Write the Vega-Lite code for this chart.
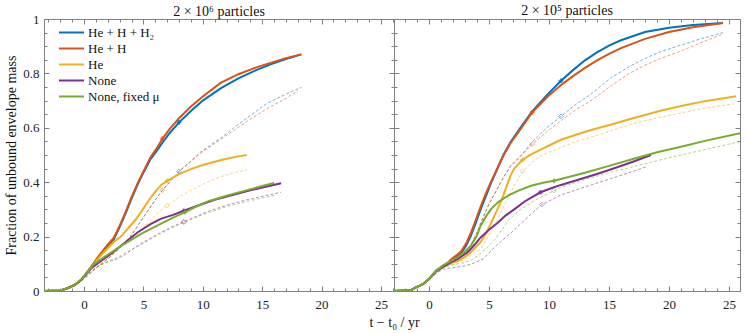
{
"$schema": "https://vega.github.io/schema/vega-lite/v6.json",
"padding": {"left": 4, "top": 3, "right": 0, "bottom": 0},
"spacing": 0,
"bounds": "flush",
"config": {
  "font": "Liberation Serif, DejaVu Serif, serif",
  "view": {"stroke": "#808080", "strokeWidth": 1},
  "title": {"font": "Liberation Serif, DejaVu Serif, serif", "fontSize": 14, "fontWeight": "normal", "color": "#111", "offset": 1},
  "axis": {"domain": false, "grid": false, "tickColor": "#808080", "tickWidth": 1, "labelColor": "#222", "labelFontSize": 13, "titleFontSize": 14, "titleFontWeight": "normal", "titleColor": "#111", "labelFont": "Liberation Serif, DejaVu Serif, serif", "titleFont": "Liberation Serif, DejaVu Serif, serif"},
  "legend": {"labelFont": "Liberation Serif, DejaVu Serif, serif", "labelFontSize": 13, "labelColor": "#111", "orient": "none", "legendX": 20, "legendY": 6, "title": null, "symbolType": "M-2,0L2,0", "symbolStrokeWidth": 2, "symbolSize": 156, "symbolOpacity": 1, "rowPadding": 1, "labelOffset": 9}
},
"datasets": {
"LA": [
{"s":"He + H + H₂","x":-3.37,"y":0},{"s":"He + H + H₂","x":-2,"y":0.002},{"s":"He + H + H₂","x":-1.4,"y":0.01},{"s":"He + H + H₂","x":-0.8,"y":0.022},{"s":"He + H + H₂","x":-0.25,"y":0.04},{"s":"He + H + H₂","x":0.6,"y":0.088},{"s":"He + H + H₂","x":1.3,"y":0.13},{"s":"He + H + H₂","x":2,"y":0.165},{"s":"He + H + H₂","x":2.5,"y":0.19},{"s":"He + H + H₂","x":3,"y":0.235},{"s":"He + H + H₂","x":3.5,"y":0.285},{"s":"He + H + H₂","x":4,"y":0.34},{"s":"He + H + H₂","x":4.5,"y":0.39},{"s":"He + H + H₂","x":5,"y":0.435},{"s":"He + H + H₂","x":5.6,"y":0.485},{"s":"He + H + H₂","x":6.2,"y":0.52},{"s":"He + H + H₂","x":6.6,"y":0.545},{"s":"He + H + H₂","x":7.2,"y":0.58},{"s":"He + H + H₂","x":8,"y":0.62},{"s":"He + H + H₂","x":9,"y":0.662},{"s":"He + H + H₂","x":10,"y":0.7},{"s":"He + H + H₂","x":11.5,"y":0.745},{"s":"He + H + H₂","x":13,"y":0.782},{"s":"He + H + H₂","x":14.5,"y":0.812},{"s":"He + H + H₂","x":15.7,"y":0.833},{"s":"He + H + H₂","x":17,"y":0.853},{"s":"He + H + H₂","x":18.3,"y":0.87},
{"s":"He + H","x":-3.37,"y":0},{"s":"He + H","x":-2,"y":0.002},{"s":"He + H","x":-1.4,"y":0.01},{"s":"He + H","x":-0.8,"y":0.022},{"s":"He + H","x":-0.25,"y":0.04},{"s":"He + H","x":0.6,"y":0.09},{"s":"He + H","x":1.3,"y":0.132},{"s":"He + H","x":2,"y":0.17},{"s":"He + H","x":2.5,"y":0.195},{"s":"He + H","x":3,"y":0.24},{"s":"He + H","x":3.5,"y":0.29},{"s":"He + H","x":4,"y":0.345},{"s":"He + H","x":4.5,"y":0.395},{"s":"He + H","x":5,"y":0.44},{"s":"He + H","x":5.6,"y":0.492},{"s":"He + H","x":6.2,"y":0.53},{"s":"He + H","x":6.6,"y":0.56},{"s":"He + H","x":7.2,"y":0.595},{"s":"He + H","x":8,"y":0.635},{"s":"He + H","x":9,"y":0.678},{"s":"He + H","x":10,"y":0.715},{"s":"He + H","x":11.5,"y":0.765},{"s":"He + H","x":13,"y":0.797},{"s":"He + H","x":14.5,"y":0.822},{"s":"He + H","x":15.7,"y":0.838},{"s":"He + H","x":17,"y":0.856},{"s":"He + H","x":18.3,"y":0.87},
{"s":"He","x":-3.37,"y":0},{"s":"He","x":-2,"y":0.002},{"s":"He","x":-1.4,"y":0.01},{"s":"He","x":-0.8,"y":0.022},{"s":"He","x":-0.25,"y":0.04},{"s":"He","x":0.6,"y":0.088},{"s":"He","x":1.4,"y":0.13},{"s":"He","x":2.5,"y":0.18},{"s":"He","x":3.1,"y":0.2},{"s":"He","x":3.66,"y":0.228},{"s":"He","x":4.3,"y":0.26},{"s":"He","x":4.8,"y":0.29},{"s":"He","x":5.4,"y":0.33},{"s":"He","x":5.9,"y":0.36},{"s":"He","x":6.5,"y":0.39},{"s":"He","x":7,"y":0.405},{"s":"He","x":8,"y":0.43},{"s":"He","x":9,"y":0.448},{"s":"He","x":10,"y":0.463},{"s":"He","x":11,"y":0.475},{"s":"He","x":12,"y":0.486},{"s":"He","x":13,"y":0.495},{"s":"He","x":13.7,"y":0.5},
{"s":"None","x":-3.37,"y":0},{"s":"None","x":-2,"y":0.002},{"s":"None","x":-1.4,"y":0.01},{"s":"None","x":-0.8,"y":0.022},{"s":"None","x":-0.25,"y":0.04},{"s":"None","x":0.6,"y":0.083},{"s":"None","x":1.26,"y":0.105},{"s":"None","x":2.26,"y":0.136},{"s":"None","x":3.35,"y":0.175},{"s":"None","x":4.5,"y":0.215},{"s":"None","x":5.6,"y":0.246},{"s":"None","x":6.45,"y":0.265},{"s":"None","x":7.5,"y":0.28},{"s":"None","x":8.4,"y":0.295},{"s":"None","x":9.8,"y":0.317},{"s":"None","x":11,"y":0.335},{"s":"None","x":12.5,"y":0.353},{"s":"None","x":14,"y":0.37},{"s":"None","x":15.3,"y":0.383},{"s":"None","x":16.6,"y":0.396},
{"s":"None, fixed μ","x":-3.37,"y":0},{"s":"None, fixed μ","x":-2,"y":0.002},{"s":"None, fixed μ","x":-1.4,"y":0.01},{"s":"None, fixed μ","x":-0.8,"y":0.022},{"s":"None, fixed μ","x":-0.25,"y":0.042},{"s":"None, fixed μ","x":0.85,"y":0.1},{"s":"None, fixed μ","x":1.7,"y":0.125},{"s":"None, fixed μ","x":3.1,"y":0.165},{"s":"None, fixed μ","x":4.8,"y":0.21},{"s":"None, fixed μ","x":6.45,"y":0.247},{"s":"None, fixed μ","x":7.5,"y":0.27},{"s":"None, fixed μ","x":8.5,"y":0.29},{"s":"None, fixed μ","x":9.8,"y":0.318},{"s":"None, fixed μ","x":10.6,"y":0.332},{"s":"None, fixed μ","x":12,"y":0.35},{"s":"None, fixed μ","x":13.5,"y":0.368},{"s":"None, fixed μ","x":15,"y":0.386},{"s":"None, fixed μ","x":16,"y":0.397}
],
"LB": [
{"s":"He + H + H₂","x":-3.37,"y":0},{"s":"He + H + H₂","x":-2,"y":0.002},{"s":"He + H + H₂","x":-1.4,"y":0.008},{"s":"He + H + H₂","x":-0.5,"y":0.03},{"s":"He + H + H₂","x":0.3,"y":0.06},{"s":"He + H + H₂","x":1,"y":0.085},{"s":"He + H + H₂","x":2,"y":0.118},{"s":"He + H + H₂","x":2.9,"y":0.154},{"s":"He + H + H₂","x":3.9,"y":0.2},{"s":"He + H + H₂","x":4.6,"y":0.245},{"s":"He + H + H₂","x":5.3,"y":0.29},{"s":"He + H + H₂","x":6,"y":0.335},{"s":"He + H + H₂","x":6.6,"y":0.37},{"s":"He + H + H₂","x":7.3,"y":0.405},{"s":"He + H + H₂","x":8,"y":0.44},{"s":"He + H + H₂","x":9,"y":0.478},{"s":"He + H + H₂","x":9.8,"y":0.51},{"s":"He + H + H₂","x":10.6,"y":0.535},{"s":"He + H + H₂","x":11.6,"y":0.565},{"s":"He + H + H₂","x":12.6,"y":0.6},{"s":"He + H + H₂","x":14,"y":0.645},{"s":"He + H + H₂","x":15.4,"y":0.69},{"s":"He + H + H₂","x":17,"y":0.724},{"s":"He + H + H₂","x":18.3,"y":0.749},
{"s":"He + H","x":-3.37,"y":0},{"s":"He + H","x":-2,"y":0.002},{"s":"He + H","x":-1.4,"y":0.008},{"s":"He + H","x":-0.5,"y":0.03},{"s":"He + H","x":0.3,"y":0.06},{"s":"He + H","x":1,"y":0.085},{"s":"He + H","x":2,"y":0.118},{"s":"He + H","x":2.9,"y":0.154},{"s":"He + H","x":3.9,"y":0.2},{"s":"He + H","x":4.6,"y":0.245},{"s":"He + H","x":5.3,"y":0.29},{"s":"He + H","x":6,"y":0.335},{"s":"He + H","x":6.6,"y":0.37},{"s":"He + H","x":7.3,"y":0.405},{"s":"He + H","x":8,"y":0.44},{"s":"He + H","x":9,"y":0.476},{"s":"He + H","x":9.8,"y":0.506},{"s":"He + H","x":10.6,"y":0.53},{"s":"He + H","x":11.6,"y":0.56},{"s":"He + H","x":12.6,"y":0.59},{"s":"He + H","x":14,"y":0.632},{"s":"He + H","x":15.4,"y":0.67},{"s":"He + H","x":17,"y":0.708},{"s":"He + H","x":18,"y":0.736},
{"s":"He","x":-3.37,"y":0},{"s":"He","x":-2,"y":0.002},{"s":"He","x":-1.4,"y":0.008},{"s":"He","x":-0.5,"y":0.03},{"s":"He","x":0.3,"y":0.06},{"s":"He","x":1,"y":0.085},{"s":"He","x":2,"y":0.12},{"s":"He","x":2.9,"y":0.154},{"s":"He","x":3.5,"y":0.178},{"s":"He","x":4.2,"y":0.203},{"s":"He","x":4.9,"y":0.23},{"s":"He","x":5.6,"y":0.258},{"s":"He","x":6.3,"y":0.29},{"s":"He","x":7,"y":0.314},{"s":"He","x":8,"y":0.345},{"s":"He","x":9,"y":0.37},{"s":"He","x":10,"y":0.392},{"s":"He","x":10.6,"y":0.405},{"s":"He","x":11.5,"y":0.42},{"s":"He","x":12.5,"y":0.434},{"s":"He","x":13.7,"y":0.445},
{"s":"None","x":-3.37,"y":0},{"s":"None","x":-2,"y":0.002},{"s":"None","x":-1.4,"y":0.008},{"s":"None","x":-0.5,"y":0.028},{"s":"None","x":0.3,"y":0.055},{"s":"None","x":1.15,"y":0.09},{"s":"None","x":1.7,"y":0.103},{"s":"None","x":2.8,"y":0.118},{"s":"None","x":3.5,"y":0.135},{"s":"None","x":4.8,"y":0.175},{"s":"None","x":6.45,"y":0.215},{"s":"None","x":7.5,"y":0.238},{"s":"None","x":8.4,"y":0.255},{"s":"None","x":9.5,"y":0.275},{"s":"None","x":10.6,"y":0.295},{"s":"None","x":12,"y":0.315},{"s":"None","x":13.5,"y":0.333},{"s":"None","x":15,"y":0.348},{"s":"None","x":16.6,"y":0.363},
{"s":"None, fixed μ","x":-3.37,"y":0},{"s":"None, fixed μ","x":-2,"y":0.002},{"s":"None, fixed μ","x":-1.4,"y":0.008},{"s":"None, fixed μ","x":-0.5,"y":0.028},{"s":"None, fixed μ","x":0.3,"y":0.058},{"s":"None, fixed μ","x":1,"y":0.085},{"s":"None, fixed μ","x":2,"y":0.108},{"s":"None, fixed μ","x":3,"y":0.128},{"s":"None, fixed μ","x":4,"y":0.153},{"s":"None, fixed μ","x":4.8,"y":0.17},{"s":"None, fixed μ","x":6,"y":0.2},{"s":"None, fixed μ","x":7.3,"y":0.23},{"s":"None, fixed μ","x":8.4,"y":0.252},{"s":"None, fixed μ","x":9.5,"y":0.272},{"s":"None, fixed μ","x":10.6,"y":0.29},{"s":"None, fixed μ","x":12,"y":0.31},{"s":"None, fixed μ","x":13.5,"y":0.327},{"s":"None, fixed μ","x":15,"y":0.342},{"s":"None, fixed μ","x":16.1,"y":0.352}
],
"RA": [
{"s":"He + H + H₂","x":-2.92,"y":0},{"s":"He + H + H₂","x":-1.5,"y":0.003},{"s":"He + H + H₂","x":-1.1,"y":0.013},{"s":"He + H + H₂","x":-0.5,"y":0.025},{"s":"He + H + H₂","x":0,"y":0.044},{"s":"He + H + H₂","x":0.6,"y":0.075},{"s":"He + H + H₂","x":1,"y":0.085},{"s":"He + H + H₂","x":1.4,"y":0.095},{"s":"He + H + H₂","x":1.8,"y":0.11},{"s":"He + H + H₂","x":2.25,"y":0.125},{"s":"He + H + H₂","x":2.7,"y":0.14},{"s":"He + H + H₂","x":3.1,"y":0.167},{"s":"He + H + H₂","x":3.5,"y":0.205},{"s":"He + H + H₂","x":3.9,"y":0.25},{"s":"He + H + H₂","x":4.3,"y":0.3},{"s":"He + H + H₂","x":4.75,"y":0.35},{"s":"He + H + H₂","x":5.2,"y":0.4},{"s":"He + H + H₂","x":5.7,"y":0.45},{"s":"He + H + H₂","x":6.2,"y":0.5},{"s":"He + H + H₂","x":6.8,"y":0.548},{"s":"He + H + H₂","x":7.7,"y":0.605},{"s":"He + H + H₂","x":8.6,"y":0.66},{"s":"He + H + H₂","x":9.9,"y":0.724},{"s":"He + H + H₂","x":11,"y":0.773},{"s":"He + H + H₂","x":12,"y":0.812},{"s":"He + H + H₂","x":13,"y":0.848},{"s":"He + H + H₂","x":14,"y":0.877},{"s":"He + H + H₂","x":15,"y":0.902},{"s":"He + H + H₂","x":16,"y":0.922},{"s":"He + H + H₂","x":18,"y":0.952},{"s":"He + H + H₂","x":20,"y":0.968},{"s":"He + H + H₂","x":22,"y":0.978},{"s":"He + H + H₂","x":24.5,"y":0.985},
{"s":"He + H","x":-2.92,"y":0},{"s":"He + H","x":-1.5,"y":0.003},{"s":"He + H","x":-1.1,"y":0.013},{"s":"He + H","x":-0.5,"y":0.025},{"s":"He + H","x":0,"y":0.044},{"s":"He + H","x":0.6,"y":0.075},{"s":"He + H","x":1,"y":0.085},{"s":"He + H","x":1.4,"y":0.097},{"s":"He + H","x":1.8,"y":0.115},{"s":"He + H","x":2.25,"y":0.13},{"s":"He + H","x":2.7,"y":0.147},{"s":"He + H","x":3.1,"y":0.175},{"s":"He + H","x":3.5,"y":0.215},{"s":"He + H","x":3.9,"y":0.262},{"s":"He + H","x":4.3,"y":0.31},{"s":"He + H","x":4.75,"y":0.36},{"s":"He + H","x":5.2,"y":0.405},{"s":"He + H","x":5.7,"y":0.452},{"s":"He + H","x":6.2,"y":0.498},{"s":"He + H","x":6.8,"y":0.544},{"s":"He + H","x":7.7,"y":0.6},{"s":"He + H","x":8.6,"y":0.657},{"s":"He + H","x":9.9,"y":0.715},{"s":"He + H","x":11,"y":0.757},{"s":"He + H","x":12,"y":0.79},{"s":"He + H","x":13,"y":0.82},{"s":"He + H","x":14,"y":0.848},{"s":"He + H","x":15,"y":0.872},{"s":"He + H","x":16,"y":0.893},{"s":"He + H","x":18,"y":0.927},{"s":"He + H","x":20,"y":0.952},{"s":"He + H","x":22,"y":0.97},{"s":"He + H","x":24.5,"y":0.985},
{"s":"He","x":-2.92,"y":0},{"s":"He","x":-1.5,"y":0.003},{"s":"He","x":-1.1,"y":0.013},{"s":"He","x":-0.5,"y":0.025},{"s":"He","x":0,"y":0.044},{"s":"He","x":0.6,"y":0.075},{"s":"He","x":1.2,"y":0.09},{"s":"He","x":2,"y":0.105},{"s":"He","x":2.5,"y":0.112},{"s":"He","x":3.35,"y":0.136},{"s":"He","x":4.3,"y":0.18},{"s":"He","x":4.8,"y":0.215},{"s":"He","x":5.3,"y":0.262},{"s":"He","x":5.7,"y":0.3},{"s":"He","x":6.1,"y":0.34},{"s":"He","x":6.55,"y":0.395},{"s":"He","x":6.8,"y":0.425},{"s":"He","x":7.1,"y":0.45},{"s":"He","x":7.8,"y":0.482},{"s":"He","x":8.5,"y":0.502},{"s":"He","x":9.3,"y":0.52},{"s":"He","x":10,"y":0.535},{"s":"He","x":11,"y":0.556},{"s":"He","x":12.5,"y":0.578},{"s":"He","x":13.5,"y":0.592},{"s":"He","x":15.2,"y":0.612},{"s":"He","x":17,"y":0.635},{"s":"He","x":19.3,"y":0.663},{"s":"He","x":21,"y":0.68},{"s":"He","x":23,"y":0.698},{"s":"He","x":25.6,"y":0.716},
{"s":"None","x":-2.92,"y":0},{"s":"None","x":-1.5,"y":0.003},{"s":"None","x":-1.1,"y":0.013},{"s":"None","x":-0.5,"y":0.025},{"s":"None","x":0,"y":0.044},{"s":"None","x":0.6,"y":0.072},{"s":"None","x":1.2,"y":0.09},{"s":"None","x":1.8,"y":0.105},{"s":"None","x":2.4,"y":0.118},{"s":"None","x":3.2,"y":0.142},{"s":"None","x":3.8,"y":0.17},{"s":"None","x":4.3,"y":0.197},{"s":"None","x":5,"y":0.225},{"s":"None","x":5.7,"y":0.25},{"s":"None","x":6.4,"y":0.278},{"s":"None","x":7.1,"y":0.3},{"s":"None","x":8,"y":0.33},{"s":"None","x":9.3,"y":0.363},{"s":"None","x":10,"y":0.375},{"s":"None","x":11,"y":0.39},{"s":"None","x":12.5,"y":0.41},{"s":"None","x":14,"y":0.43},{"s":"None","x":15.5,"y":0.452},{"s":"None","x":17,"y":0.475},{"s":"None","x":18.5,"y":0.5},
{"s":"None, fixed μ","x":-2.92,"y":0},{"s":"None, fixed μ","x":-1.5,"y":0.003},{"s":"None, fixed μ","x":-1.1,"y":0.013},{"s":"None, fixed μ","x":-0.5,"y":0.026},{"s":"None, fixed μ","x":0,"y":0.045},{"s":"None, fixed μ","x":0.6,"y":0.075},{"s":"None, fixed μ","x":1.2,"y":0.095},{"s":"None, fixed μ","x":1.8,"y":0.11},{"s":"None, fixed μ","x":2.4,"y":0.125},{"s":"None, fixed μ","x":3,"y":0.145},{"s":"None, fixed μ","x":3.5,"y":0.167},{"s":"None, fixed μ","x":4,"y":0.205},{"s":"None, fixed μ","x":4.3,"y":0.24},{"s":"None, fixed μ","x":4.8,"y":0.278},{"s":"None, fixed μ","x":5.2,"y":0.303},{"s":"None, fixed μ","x":5.8,"y":0.328},{"s":"None, fixed μ","x":6.55,"y":0.35},{"s":"None, fixed μ","x":7.5,"y":0.37},{"s":"None, fixed μ","x":8.5,"y":0.387},{"s":"None, fixed μ","x":9.5,"y":0.398},{"s":"None, fixed μ","x":10.4,"y":0.405},{"s":"None, fixed μ","x":11,"y":0.412},{"s":"None, fixed μ","x":13,"y":0.435},{"s":"None, fixed μ","x":15,"y":0.46},{"s":"None, fixed μ","x":17,"y":0.485},{"s":"None, fixed μ","x":19,"y":0.51},{"s":"None, fixed μ","x":21,"y":0.53},{"s":"None, fixed μ","x":23,"y":0.552},{"s":"None, fixed μ","x":25.92,"y":0.58}
],
"RB": [
{"s":"He + H + H₂","x":-2.92,"y":0},{"s":"He + H + H₂","x":-1.5,"y":0.003},{"s":"He + H + H₂","x":-1.1,"y":0.012},{"s":"He + H + H₂","x":-0.5,"y":0.024},{"s":"He + H + H₂","x":0,"y":0.042},{"s":"He + H + H₂","x":0.6,"y":0.07},{"s":"He + H + H₂","x":1.2,"y":0.088},{"s":"He + H + H₂","x":1.8,"y":0.1},{"s":"He + H + H₂","x":2.4,"y":0.115},{"s":"He + H + H₂","x":3.1,"y":0.14},{"s":"He + H + H₂","x":3.5,"y":0.17},{"s":"He + H + H₂","x":4,"y":0.215},{"s":"He + H + H₂","x":4.5,"y":0.27},{"s":"He + H + H₂","x":5,"y":0.32},{"s":"He + H + H₂","x":5.5,"y":0.36},{"s":"He + H + H₂","x":6.1,"y":0.41},{"s":"He + H + H₂","x":6.8,"y":0.46},{"s":"He + H + H₂","x":7.7,"y":0.5},{"s":"He + H + H₂","x":8.6,"y":0.548},{"s":"He + H + H₂","x":9.8,"y":0.6},{"s":"He + H + H₂","x":11,"y":0.642},{"s":"He + H + H₂","x":12.2,"y":0.685},{"s":"He + H + H₂","x":13.5,"y":0.724},{"s":"He + H + H₂","x":15.2,"y":0.785},{"s":"He + H + H₂","x":16.5,"y":0.82},{"s":"He + H + H₂","x":17.9,"y":0.853},{"s":"He + H + H₂","x":19.3,"y":0.88},{"s":"He + H + H₂","x":20.7,"y":0.9},{"s":"He + H + H₂","x":22.5,"y":0.925},{"s":"He + H + H₂","x":24.5,"y":0.95},
{"s":"He + H","x":-2.92,"y":0},{"s":"He + H","x":-1.5,"y":0.003},{"s":"He + H","x":-1.1,"y":0.012},{"s":"He + H","x":-0.5,"y":0.024},{"s":"He + H","x":0,"y":0.042},{"s":"He + H","x":0.6,"y":0.07},{"s":"He + H","x":1.2,"y":0.088},{"s":"He + H","x":1.8,"y":0.1},{"s":"He + H","x":2.4,"y":0.115},{"s":"He + H","x":3.1,"y":0.14},{"s":"He + H","x":3.5,"y":0.17},{"s":"He + H","x":4,"y":0.215},{"s":"He + H","x":4.5,"y":0.27},{"s":"He + H","x":5,"y":0.32},{"s":"He + H","x":5.5,"y":0.36},{"s":"He + H","x":6.1,"y":0.41},{"s":"He + H","x":6.8,"y":0.458},{"s":"He + H","x":7.7,"y":0.498},{"s":"He + H","x":8.6,"y":0.54},{"s":"He + H","x":9.8,"y":0.585},{"s":"He + H","x":11,"y":0.626},{"s":"He + H","x":12.2,"y":0.665},{"s":"He + H","x":13.5,"y":0.7},{"s":"He + H","x":15.2,"y":0.755},{"s":"He + H","x":16.5,"y":0.795},{"s":"He + H","x":17.9,"y":0.828},{"s":"He + H","x":19.3,"y":0.855},{"s":"He + H","x":20.7,"y":0.877},{"s":"He + H","x":22.5,"y":0.91},{"s":"He + H","x":24.5,"y":0.945},
{"s":"He","x":-2.92,"y":0},{"s":"He","x":-1.5,"y":0.003},{"s":"He","x":-1.1,"y":0.012},{"s":"He","x":-0.5,"y":0.024},{"s":"He","x":0,"y":0.042},{"s":"He","x":0.6,"y":0.07},{"s":"He","x":1.2,"y":0.088},{"s":"He","x":2,"y":0.1},{"s":"He","x":2.7,"y":0.11},{"s":"He","x":3.3,"y":0.125},{"s":"He","x":4.3,"y":0.154},{"s":"He","x":4.8,"y":0.19},{"s":"He","x":5.3,"y":0.228},{"s":"He","x":5.9,"y":0.28},{"s":"He","x":6.4,"y":0.327},{"s":"He","x":7,"y":0.38},{"s":"He","x":7.8,"y":0.44},{"s":"He","x":8.5,"y":0.47},{"s":"He","x":9.3,"y":0.497},{"s":"He","x":10,"y":0.51},{"s":"He","x":11,"y":0.528},{"s":"He","x":12.2,"y":0.548},{"s":"He","x":13.5,"y":0.565},{"s":"He","x":15.2,"y":0.59},{"s":"He","x":17,"y":0.615},{"s":"He","x":19.3,"y":0.639},{"s":"He","x":21,"y":0.655},{"s":"He","x":23,"y":0.672},{"s":"He","x":25.4,"y":0.688},
{"s":"None","x":-2.92,"y":0},{"s":"None","x":-1.5,"y":0.003},{"s":"None","x":-1.1,"y":0.012},{"s":"None","x":-0.5,"y":0.024},{"s":"None","x":0,"y":0.04},{"s":"None","x":0.6,"y":0.065},{"s":"None","x":1.2,"y":0.08},{"s":"None","x":1.8,"y":0.085},{"s":"None","x":2.25,"y":0.087},{"s":"None","x":3,"y":0.093},{"s":"None","x":3.6,"y":0.1},{"s":"None","x":4.5,"y":0.118},{"s":"None","x":5.6,"y":0.167},{"s":"None","x":7,"y":0.22},{"s":"None","x":8.3,"y":0.275},{"s":"None","x":9.4,"y":0.318},{"s":"None","x":10.2,"y":0.335},{"s":"None","x":11,"y":0.353},{"s":"None","x":12.5,"y":0.375},{"s":"None","x":14,"y":0.397},{"s":"None","x":15.5,"y":0.418},{"s":"None","x":17,"y":0.44},{"s":"None","x":18.2,"y":0.458},
{"s":"None, fixed μ","x":-2.92,"y":0},{"s":"None, fixed μ","x":-1.5,"y":0.003},{"s":"None, fixed μ","x":-1.1,"y":0.012},{"s":"None, fixed μ","x":-0.5,"y":0.024},{"s":"None, fixed μ","x":0,"y":0.042},{"s":"None, fixed μ","x":0.6,"y":0.068},{"s":"None, fixed μ","x":1.2,"y":0.085},{"s":"None, fixed μ","x":1.8,"y":0.095},{"s":"None, fixed μ","x":2.4,"y":0.1},{"s":"None, fixed μ","x":3,"y":0.105},{"s":"None, fixed μ","x":3.6,"y":0.115},{"s":"None, fixed μ","x":4.2,"y":0.135},{"s":"None, fixed μ","x":4.75,"y":0.155},{"s":"None, fixed μ","x":5.6,"y":0.195},{"s":"None, fixed μ","x":6.7,"y":0.265},{"s":"None, fixed μ","x":7.8,"y":0.305},{"s":"None, fixed μ","x":8.9,"y":0.335},{"s":"None, fixed μ","x":10.4,"y":0.369},{"s":"None, fixed μ","x":11,"y":0.381},{"s":"None, fixed μ","x":13,"y":0.41},{"s":"None, fixed μ","x":15,"y":0.435},{"s":"None, fixed μ","x":17.9,"y":0.467},{"s":"None, fixed μ","x":20,"y":0.49},{"s":"None, fixed μ","x":22,"y":0.51},{"s":"None, fixed μ","x":24,"y":0.53},{"s":"None, fixed μ","x":25.92,"y":0.549}
],
"M": [
{"p":"L","c":"A","s":"He + H + H₂","x":8,"y":0.62},{"p":"L","c":"A","s":"He + H","x":6.6,"y":0.56},{"p":"L","c":"A","s":"He","x":7,"y":0.405},{"p":"L","c":"A","s":"None","x":8.4,"y":0.295},{"p":"L","c":"A","s":"None, fixed μ","x":8.5,"y":0.29},
{"p":"L","c":"B","s":"He + H + H₂","x":8,"y":0.44},{"p":"L","c":"B","s":"He + H","x":6.6,"y":0.37},{"p":"L","c":"B","s":"He","x":7,"y":0.314},{"p":"L","c":"B","s":"None","x":8.4,"y":0.255},{"p":"L","c":"B","s":"None, fixed μ","x":8.4,"y":0.252},
{"p":"R","c":"A","s":"He + H + H₂","x":11,"y":0.773},{"p":"R","c":"A","s":"He + H","x":8.6,"y":0.657},{"p":"R","c":"A","s":"He","x":7.8,"y":0.482},{"p":"R","c":"A","s":"None","x":9.3,"y":0.363},{"p":"R","c":"A","s":"None, fixed μ","x":10.4,"y":0.405},
{"p":"R","c":"B","s":"He + H + H₂","x":11,"y":0.642},{"p":"R","c":"B","s":"He + H","x":8.6,"y":0.54},{"p":"R","c":"B","s":"He","x":7.8,"y":0.44},{"p":"R","c":"B","s":"None","x":9.4,"y":0.318},{"p":"R","c":"B","s":"None, fixed μ","x":10.4,"y":0.369}
]
},
"hconcat": [
{
 "width": 350, "height": 272,
 "title": {"text": "2 × 10⁶ particles", "offset": -6},
 "resolve": {"axis": {"x": "independent", "y": "independent"}},
 "layer": [
  {"data": {"name": "LB"},
   "mark": {"type": "line", "strokeWidth": 1, "strokeDash": [3, 2], "opacity": 0.55},
   "encoding": {
    "x": {"field": "x", "type": "quantitative", "scale": {"domain": [-3.37, 26.1], "nice": false, "zero": false},
          "axis": {"orient": "top", "values": [-3,-2,-1,0,1,2,3,4,5,6,7,8,9,10,11,12,13,14,15,16,17,18,19,20,21,22,23,24,25,26], "labels": false, "title": null, "tickSize": {"condition": {"test": "datum.value % 5 === 0", "value": -5}, "value": -3}}},
    "y": {"field": "y", "type": "quantitative", "scale": {"domain": [0, 1], "nice": false},
          "axis": {"orient": "right", "values": [0,0.05,0.1,0.15,0.2,0.25,0.3,0.35,0.4,0.45,0.5,0.55,0.6,0.65,0.7,0.75,0.8,0.85,0.9,0.95,1], "labels": false, "title": null, "tickSize": {"condition": {"test": "abs(datum.value*5 - round(datum.value*5)) < 0.001", "value": -5}, "value": -3}}},
    "color": {"field": "s", "type": "nominal", "scale": {"domain": ["He + H + H₂", "He + H", "He", "None", "None, fixed μ"], "range": ["#0072BD", "#D95319", "#EDB120", "#7E2F8E", "#77AC30"]}}
   }},
  {"data": {"name": "LA"},
   "mark": {"type": "line", "strokeWidth": 2},
   "encoding": {
    "x": {"field": "x", "type": "quantitative",
          "axis": {"orient": "bottom", "values": [-3,-2,-1,0,1,2,3,4,5,6,7,8,9,10,11,12,13,14,15,16,17,18,19,20,21,22,23,24,25,26], "format": "d", "labelExpr": "datum.value % 5 === 0 ? datum.label : ''", "labelPadding": 12, "title": "t − t₀  /  yr", "titleX": 350, "titleAlign": "center", "titlePadding": 4, "tickSize": {"condition": {"test": "datum.value % 5 === 0", "value": -5}, "value": -3}}},
    "y": {"field": "y", "type": "quantitative",
          "axis": {"orient": "left", "values": [0,0.05,0.1,0.15,0.2,0.25,0.3,0.35,0.4,0.45,0.5,0.55,0.6,0.65,0.7,0.75,0.8,0.85,0.9,0.95,1], "format": "~g", "labelExpr": "abs(datum.value*5 - round(datum.value*5)) < 0.001 ? datum.label : ''", "labelPadding": 10, "title": "Fraction of unbound envelope mass", "titlePadding": 4, "tickSize": {"condition": {"test": "abs(datum.value*5 - round(datum.value*5)) < 0.001", "value": -5}, "value": -3}}},
    "color": {"field": "s", "type": "nominal"}
   }},
  {"data": {"name": "M"}, "transform": [{"filter": "datum.p === 'L' && datum.c === 'B'"}],
   "mark": {"type": "point", "shape": "diamond", "filled": false, "size": 22, "strokeWidth": 0.8, "opacity": 0.6},
   "encoding": {"x": {"field": "x", "type": "quantitative", "axis": null}, "y": {"field": "y", "type": "quantitative", "axis": null}, "color": {"field": "s", "type": "nominal"}}},
  {"data": {"name": "M"}, "transform": [{"filter": "datum.p === 'L' && datum.c === 'A'"}],
   "mark": {"type": "point", "shape": "cross", "filled": true, "size": 22, "opacity": 0.8},
   "encoding": {"x": {"field": "x", "type": "quantitative", "axis": null}, "y": {"field": "y", "type": "quantitative", "axis": null}, "color": {"field": "s", "type": "nominal"}}}
 ]
},
{
 "width": 346, "height": 272,
 "title": {"text": "2 × 10⁵ particles"},
 "resolve": {"axis": {"x": "independent", "y": "independent"}},
 "layer": [
  {"data": {"name": "RB"},
   "mark": {"type": "line", "strokeWidth": 1, "strokeDash": [3, 2], "opacity": 0.55},
   "encoding": {
    "x": {"field": "x", "type": "quantitative", "scale": {"domain": [-2.92, 25.92], "nice": false, "zero": false},
          "axis": {"orient": "top", "values": [-2,-1,0,1,2,3,4,5,6,7,8,9,10,11,12,13,14,15,16,17,18,19,20,21,22,23,24,25], "labels": false, "title": null, "tickSize": {"condition": {"test": "datum.value % 5 === 0", "value": -5}, "value": -3}}},
    "y": {"field": "y", "type": "quantitative", "scale": {"domain": [0, 1], "nice": false},
          "axis": {"orient": "right", "values": [0,0.05,0.1,0.15,0.2,0.25,0.3,0.35,0.4,0.45,0.5,0.55,0.6,0.65,0.7,0.75,0.8,0.85,0.9,0.95,1], "labels": false, "title": null, "tickSize": {"condition": {"test": "abs(datum.value*5 - round(datum.value*5)) < 0.001", "value": -5}, "value": -3}}},
    "color": {"field": "s", "type": "nominal"}
   }},
  {"data": {"name": "RA"},
   "mark": {"type": "line", "strokeWidth": 2},
   "encoding": {
    "x": {"field": "x", "type": "quantitative",
          "axis": {"orient": "bottom", "values": [-2,-1,0,1,2,3,4,5,6,7,8,9,10,11,12,13,14,15,16,17,18,19,20,21,22,23,24,25], "format": "d", "labelExpr": "datum.value % 5 === 0 ? datum.label : ''", "labelPadding": 12, "title": null, "tickSize": {"condition": {"test": "datum.value % 5 === 0", "value": -5}, "value": -3}}},
    "y": {"field": "y", "type": "quantitative",
          "axis": {"orient": "left", "values": [0,0.05,0.1,0.15,0.2,0.25,0.3,0.35,0.4,0.45,0.5,0.55,0.6,0.65,0.7,0.75,0.8,0.85,0.9,0.95,1], "labels": false, "title": null, "tickSize": {"condition": {"test": "abs(datum.value*5 - round(datum.value*5)) < 0.001", "value": -5}, "value": -3}}},
    "color": {"field": "s", "type": "nominal"}
   }},
  {"data": {"name": "M"}, "transform": [{"filter": "datum.p === 'R' && datum.c === 'B'"}],
   "mark": {"type": "point", "shape": "diamond", "filled": false, "size": 22, "strokeWidth": 0.8, "opacity": 0.6},
   "encoding": {"x": {"field": "x", "type": "quantitative", "axis": null}, "y": {"field": "y", "type": "quantitative", "axis": null}, "color": {"field": "s", "type": "nominal"}}},
  {"data": {"name": "M"}, "transform": [{"filter": "datum.p === 'R' && datum.c === 'A'"}],
   "mark": {"type": "point", "shape": "cross", "filled": true, "size": 22, "opacity": 0.8},
   "encoding": {"x": {"field": "x", "type": "quantitative", "axis": null}, "y": {"field": "y", "type": "quantitative", "axis": null}, "color": {"field": "s", "type": "nominal"}}}
 ]
}
]
}
